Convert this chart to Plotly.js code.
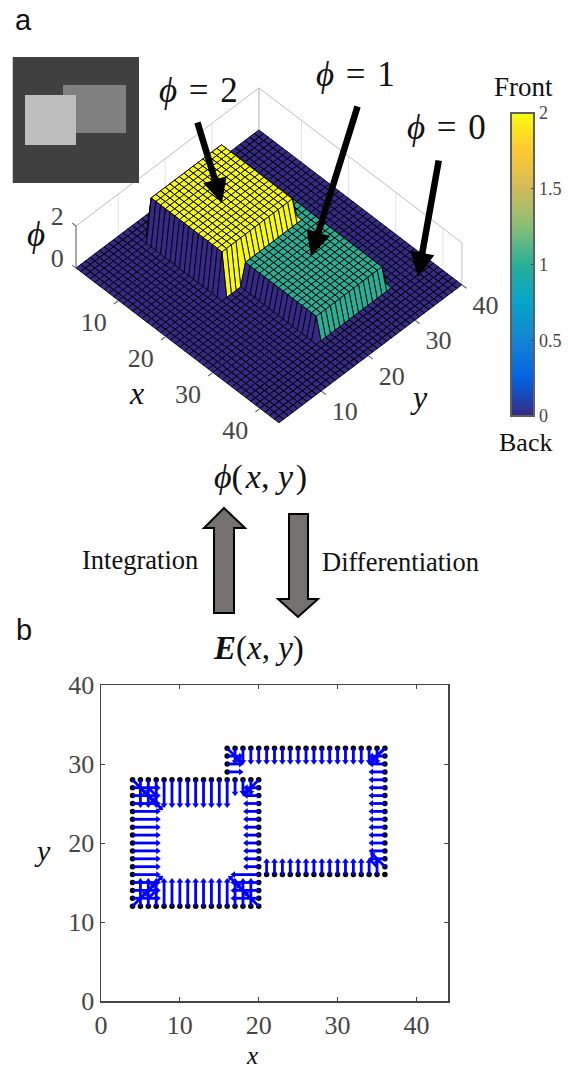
<!DOCTYPE html>
<html><head><meta charset="utf-8">
<script src="https://cdn.plot.ly/plotly-3.0.1.min.js"></script>
<style>html,body{margin:0;padding:0;background:#fff}#c{width:568px;height:1070px}</style></head>
<body><div id="c"></div>
<script>
// phi(x,y): each string is one y row (y = 1..40), each character one x column (x = 1..44)
const phiRows = [
"00000000000000000000000000000000000000000000",
"00000000000000000000000000000000000000000000",
"00000000000000000000000000000000000000000000",
"00000000000000000000000000000000000000000000",
"00000000000000000000000000000000000000000000",
"00000000000000000000000000000000000000000000",
"00000000000000000000000000000000000000000000",
"00000000000000000000000000000000000000000000",
"00000000000000000000000000000000000000000000",
"00000000000000000000000000000000000000000000",
"00000000000000000000000000000000000000000000",
"00000000000000000000000000000000000000000000",
"00002222222222222222000000000000000000000000",
"00002222222222222222000000000000000000000000",
"00002222222222222222000000000000000000000000",
"00002222222222222222000000000000000000000000",
"00002222222222222222111111111111111100000000",
"00002222222222222222111111111111111100000000",
"00002222222222222222111111111111111100000000",
"00002222222222222222111111111111111100000000",
"00002222222222222222111111111111111100000000",
"00002222222222222222111111111111111100000000",
"00002222222222222222111111111111111100000000",
"00002222222222222222111111111111111100000000",
"00002222222222222222111111111111111100000000",
"00002222222222222222111111111111111100000000",
"00002222222222222222111111111111111100000000",
"00002222222222222222111111111111111100000000",
"00000000000000001111111111111111111100000000",
"00000000000000001111111111111111111100000000",
"00000000000000001111111111111111111100000000",
"00000000000000000000000000000000000000000000",
"00000000000000000000000000000000000000000000",
"00000000000000000000000000000000000000000000",
"00000000000000000000000000000000000000000000",
"00000000000000000000000000000000000000000000",
"00000000000000000000000000000000000000000000",
"00000000000000000000000000000000000000000000",
"00000000000000000000000000000000000000000000",
"00000000000000000000000000000000000000000000"];
const xTicks3d = [10,20,30,40], yTicks3d = [10,20,30,40], zTicks3d = [0,2];
const barTicks = [0,0.5,1,1.5,2];
const parula = [[0,'rgb(53,42,135)'],[0.125,'rgb(3,99,225)'],[0.25,'rgb(20,132,212)'],[0.375,'rgb(6,164,202)'],
 [0.5,'rgb(40,175,150)'],[0.625,'rgb(135,191,119)'],[0.75,'rgb(209,187,89)'],[0.875,'rgb(254,200,50)'],[1,'rgb(249,251,14)']];

// Panel b: contour points of the two squares
const ringX = [4,5,6,7,8,9,10,11,12,13,14,15,16,17,18,19,20, 4,5,6,7,8,9,10,11,12,13,14,15,16,17,18,19,20,
 4,4,4,4,4,4,4,4,4,4,4,4,4,4,4, 20,20,20,20,20,20,20,20,20,20,20,20,20,20,20,
 16,17,18,19,20,21,22,23,24,25,26,27,28,29,30,31,32,33,34,35,36, 21,22,23,24,25,26,27,28,29,30,31,32,33,34,35,36,
 36,36,36,36,36,36,36,36,36,36,36,36,36,36,36, 16,16,16];
const ringY = [12,12,12,12,12,12,12,12,12,12,12,12,12,12,12,12,12, 28,28,28,28,28,28,28,28,28,28,28,28,28,28,28,28,28,
 13,14,15,16,17,18,19,20,21,22,23,24,25,26,27, 13,14,15,16,17,18,19,20,21,22,23,24,25,26,27,
 32,32,32,32,32,32,32,32,32,32,32,32,32,32,32,32,32,32,32,32,32, 16,16,16,16,16,16,16,16,16,16,16,16,16,16,16,16,
 17,18,19,20,21,22,23,24,25,26,27,28,29,30,31, 29,30,31];
// Panel b: field vectors E = (quiverU, quiverV) at (quiverX, quiverY)
const quiverX = [4,4,4,4,4,4,4,4,4, 8,9,10,11,12,13,14,15,16, 8,9,10,11,12,13,14,15,16, 17, 20,20,20,20,20,20,20,20,20,
 4,5,6,7,4,4,4,5,6,6, 4,5,6,7,4,4,4,5,6,6, 20,19,18,17,20,20,20,20,19,18, 20,19,18,20,20,19,
 16,17,18,19,20,21,22,23,24,25,26,27,28,29,30,31,32,33,34,35,36, 16,16,16,17,
 36,36,36,36,36,36,36,36,36,36,36,36,36,36,36, 35,35,
 21,22,23,24,25,26,27,28,29,30,31,32,33,34,35,36];
const quiverY = [16,17,18,19,20,21,22,23,24, 28,28,28,28,28,28,28,28,28, 12,12,12,12,12,12,12,12,12, 28, 17,18,19,20,21,22,23,24,25,
 28,28,28,28,27,26,25,27,26,27, 12,12,12,12,13,14,15,13,14,13, 12,12,12,12,13,14,15,16,13,14, 28,28,28,27,26,27,
 32,32,32,32,32,32,32,32,32,32,32,32,32,32,32,32,32,32,32,32,32, 31,30,29,31,
 32,31,30,29,28,27,26,25,24,23,22,21,20,19,18, 31,17,
 16,16,16,16,16,16,16,16,16,16,16,16,16,16,16,17];
const quiverU = [3.2,3.2,3.2,3.2,3.2,3.2,3.2,3.2,3.2, 0,0,0,0,0,0,0,0,0, 0,0,0,0,0,0,0,0,0, 0, -1.6,-1.6,-1.6,-1.6,-1.6,-1.6,-1.6,-1.6,-1.6,
 1.6,0,0,0,3.2,3.2,3.2,1.6,1.6,1, 1.6,0,0,0,3.2,3.2,3.2,1.6,1.6,1, -1.6,0,0,0,-3.2,-3.2,-3.2,-3.2,-1.6,-1.6, -1.6,0,0,-1.6,-1.6,-0.8,
 1.6,0,0,0,0,0,0,0,0,0,0,0,0,0,0,0,0,0,0,0,-1.6, 1.7,1.7,1.7,0.8,
 -1.7,-1.7,-1.7,-1.7,-1.7,-1.7,-1.7,-1.7,-1.7,-1.7,-1.7,-1.7,-1.7,-1.7,-1.7, -0.8,-0.8,
 0,0,0,0,0,0,0,0,0,0,0,0,0,0,0,-1.6];
const quiverV = [0,0,0,0,0,0,0,0,0, -3.2,-3.2,-3.2,-3.2,-3.2,-3.2,-3.2,-3.2,-3.2, 3.2,3.2,3.2,3.2,3.2,3.2,3.2,3.2,3.2, -1.7, 0,0,0,0,0,0,0,0,0,
 -1.6,-3.2,-3.2,-3.2,0,0,0,-1.6,-1.6,-1, 1.6,3.2,3.2,3.2,0,0,0,1.6,1.6,1, 1.6,3.2,3.2,3.2,0,0,0,0,1.6,1.6, -1.6,-1.6,-1.6,0,0,-0.8,
 -1.6,-1.7,-1.7,-1.7,-1.7,-1.7,-1.7,-1.7,-1.7,-1.7,-1.7,-1.7,-1.7,-1.7,-1.7,-1.7,-1.7,-1.7,-1.7,-1.7,-1.6, 0,0,0,-0.8,
 -1.6,0,0,0,0,0,0,0,0,0,0,0,0,0,0, -0.8,0.8,
 1.7,1.7,1.7,1.7,1.7,1.7,1.7,1.7,1.7,1.7,1.7,1.7,1.7,1.7,1.7,1.6];

const W = 568, H = 1070;
const px = v => v / W, py = v => 1 - v / H;
const phi = phiRows.map(r => r.split('').map(Number));
const gx = phi[0].map((_, i) => i + 1), gy = phi.map((_, j) => j + 1);
const nx = gx.length, ny = gy.length;
const xMin = 1, xMax = 44, yMin = 1, yMax = 40, zMax = 2;

// Oblique view of the (x,y,phi) volume, projected into the pixel-ranged axes x2/y2
const projX = (x, y, z) => 76 + (x - 1) * 4.72 + (y - 1) * 4.69;
const projY = (x, y, z) => 268 + (x - 1) * 3.60 - (y - 1) * 3.54 - z * 21;
const levelColor = v => parula.find(s => Math.abs(s[0] - v / 2) < 1e-6)[1];

// Back-to-front runs of cells sharing a colour (cell colour = low-index corner).
// Walls get their own run so their outlines stay beneath the faces drawn later.
const surfaceTraces = [];
let run = null;
for (let i = 0; i < nx - 1; i++) for (let j = ny - 2; j >= 0; j--) {
  const v = phi[j][i];
  const flat = v === phi[j][i+1] && v === phi[j+1][i] && v === phi[j+1][i+1];
  if (!run || run.level !== v || !flat || !run.flat) {
    run = {level:v, flat, xs:[], ys:[]};
    surfaceTraces.push(run);
  }
  [[i,j],[i+1,j],[i+1,j+1],[i,j+1],[i,j]].forEach(c => {
    const z = phi[c[1]][c[0]];
    run.xs.push(projX(gx[c[0]], gy[c[1]], z)); run.ys.push(projY(gx[c[0]], gy[c[1]], z));
  });
  run.xs.push(null); run.ys.push(null);
}

const seg3 = list => {
  const xs = [], ys = [];
  list.forEach(s => { xs.push(projX(s[0],s[1],s[2]), projX(s[3],s[4],s[5]), null); ys.push(projY(s[0],s[1],s[2]), projY(s[3],s[4],s[5]), null); });
  return {xs, ys};
};
const wallGrid = seg3([
  ...xTicks3d.map(x => [x,yMax,0,x,yMax,zMax]),
  ...yTicks3d.map(y => [xMin,y,0,xMin,y,zMax])
]);
const wallEdge = seg3([[xMin,yMin,zMax,xMin,yMax,zMax],[xMin,yMax,zMax,xMax,yMax,zMax],[xMin,yMax,0,xMin,yMax,zMax],[xMax,yMax,0,xMax,yMax,zMax]]);
const axisInk = seg3([
  [xMin,yMin,0,xMin,yMin,zMax],[xMin,yMin,zMax,xMin-0.8,yMin,zMax],[xMin,yMin,0,xMin-0.8,yMin,0],
  ...xTicks3d.map(x => [x,yMin,0,x,yMin-1,0]),
  ...yTicks3d.map(y => [xMax,y,0,xMax+1,y,0])
]);

const sx = [], sy = [], tipX = [], tipY = [], ang = [];
quiverX.forEach((x, i) => {
  const ex = x + quiverU[i], ey = quiverY[i] + quiverV[i];
  sx.push(x, ex, null); sy.push(quiverY[i], ey, null);
  tipX.push(ex); tipY.push(ey);
  ang.push(Math.atan2(quiverU[i], quiverV[i]) * 180 / Math.PI);
});

const serif = 'Liberation Serif';
const grey = 'rgb(70,70,70)';
const tick3 = {family:serif, size:26, color:grey};
const on3 = {xaxis:'x2', yaxis:'y2', hoverinfo:'skip', showlegend:false};
const traces = [
 {type:'scatter', mode:'markers', x:ringX, y:ringY, marker:{color:'#000', size:5.5}, hoverinfo:'skip', showlegend:false},
 {type:'scatter', mode:'lines', x:sx, y:sy, line:{color:'rgb(0,0,255)', width:2.8}, hoverinfo:'skip', showlegend:false},
 {type:'scatter', mode:'markers', x:tipX, y:tipY, marker:{color:'rgb(0,0,255)', size:6, symbol:'triangle-up', angle:ang}, hoverinfo:'skip', showlegend:false},
 Object.assign({type:'scatter', mode:'lines', x:wallGrid.xs, y:wallGrid.ys, line:{color:'rgb(226,226,226)', width:1}}, on3),
 Object.assign({type:'scatter', mode:'lines', x:wallEdge.xs, y:wallEdge.ys, line:{color:'rgb(190,190,190)', width:1}}, on3),
 ...surfaceTraces.map(r => Object.assign({type:'scatter', mode:'lines', x:r.xs, y:r.ys, fill:'toself', fillcolor:levelColor(r.level),
   line:{color:'rgb(0,0,0)', width:0.9, simplify:false}}, on3)),
 Object.assign({type:'scatter', mode:'lines', x:axisInk.xs, y:axisInk.ys, line:{color:'rgb(110,110,110)', width:1.2}}, on3),
 Object.assign({type:'scatter', mode:'text', x:xTicks3d.map(x => projX(x+0.7,-5,0)), y:xTicks3d.map(x => projY(x+0.7,-5,0)), text:xTicks3d.map(String), textfont:tick3, textposition:'middle center'}, on3),
 Object.assign({type:'scatter', mode:'text', x:yTicks3d.map(y => projX(49.65,y-0.65,0)), y:yTicks3d.map(y => projY(49.65,y-0.65,0)), text:yTicks3d.map(String), textfont:tick3, textposition:'middle center'}, on3),
 Object.assign({type:'scatter', mode:'text', x:zTicks3d.map(z => projX(-2,0,z)), y:zTicks3d.map(z => projY(-2,0,z)), text:zTicks3d.map(String), textfont:tick3, textposition:'middle center'}, on3),
 Object.assign({type:'scatter', mode:'markers', x:[-50,-50], y:[-50,-50],
  marker:{size:1, color:[0,2], cmin:0, cmax:2, colorscale:parula, showscale:true,
  colorbar:{x:px(511), xanchor:'left', xref:'paper', y:py(113), yanchor:'top', yref:'paper', len:303/H, lenmode:'fraction',
   thickness:23, thicknessmode:'pixels', xpad:0, ypad:0, outlinecolor:'rgb(95,95,95)', outlinewidth:2, ticks:'inside', ticklen:4,
   tickcolor:grey, tickvals:barTicks, ticktext:barTicks.map(String), tickfont:{family:serif,size:18,color:grey}}}}, on3),
 {type:'heatmap', x:gx, y:gy, z:phi, xaxis:'x3', yaxis:'y3', zmin:0, zmax:2, showscale:false,
  colorscale:[[0,'rgb(64,64,64)'],[0.5,'rgb(128,128,128)'],[1,'rgb(190,190,190)']], hoverinfo:'skip'}
];

const note = (text, x, y, size, extra) => Object.assign({text, x:px(x), y:py(y), xref:'paper', yref:'paper', showarrow:false,
  xanchor:'center', yanchor:'middle', font:{family:serif, size, color:'#111'}}, extra || {});
const arrow = (x0, y0, x1, y1) => ({x:px(x1), y:py(y1), xref:'paper', yref:'paper', ax:x0 - x1, ay:y0 - y1, axref:'pixel', ayref:'pixel',
  text:'', showarrow:true, arrowhead:2, arrowsize:0.75, arrowwidth:6.5, arrowcolor:'#000'});
const poly = pts => 'M' + pts.map(p => px(p[0]) + ',' + py(p[1])).join('L') + 'Z';
const bigArrow = pts => ({type:'path', xref:'paper', yref:'paper', layer:'above', path:poly(pts), fillcolor:'rgb(118,113,113)', line:{color:'#000', width:2}});
const sp = '\u00a0', hs = '\u200a';

const panelAxis = (domain, range) => ({domain, range, tickvals:[0,10,20,30,40], ticks:'inside', ticklen:4, tickcolor:grey, mirror:'ticks', showline:true,
  linecolor:grey, linewidth:1.5, showgrid:false, zeroline:false, tickfont:{family:serif,size:26,color:grey}});
const hiddenAxis = (domain, range, anchor) => ({domain, range, visible:false, anchor, fixedrange:true});

const layout = {
 width:W, height:H, margin:{l:0,r:0,t:0,b:0}, paper_bgcolor:'#fff', plot_bgcolor:'rgba(0,0,0,0)', showlegend:false,
 xaxis:Object.assign(panelAxis([px(101),px(448)],[0,44]), {anchor:'y'}),
 yaxis:Object.assign(panelAxis([py(1001),py(685)],[0,40]), {anchor:'x'}),
 xaxis2:hiddenAxis([0,1],[0,W],'y2'),
 yaxis2:hiddenAxis([0,1],[H,0],'x2'),
 xaxis3:hiddenAxis([px(12.5),px(139)],[0.5,40.5],'y3'),
 yaxis3:hiddenAxis([py(183),py(57)],[0.5,40.5],'x3'),
 shapes:[
  bigArrow([[224,508],[245,528],[234,528],[234,613],[214,613],[214,528],[204,528]]),
  bigArrow([[289,514],[308,514],[308,599],[318,599],[298,617],[278,599],[289,599]])
 ],
 annotations:[
  note('a',23,20,29,{font:{family:'Liberation Sans',size:29,color:'#111'}}),
  note('b',24,630,29,{font:{family:'Liberation Sans',size:29,color:'#111'}}),
  note('<i>ϕ</i>'+sp+hs+'='+hs+sp+'2',198,90,35),
  note('<i>ϕ</i>'+sp+hs+'='+hs+sp+'1',355,75,35),
  note('<i>ϕ</i>'+sp+hs+'='+hs+sp+'0',446,128,35),
  note('Front',523,87,27),
  note('Back',525,442,26),
  note('<i>ϕ</i>',36,235,35),
  note('<i>x</i>',136,393,32),
  note('<i>y</i>',419,397,32),
  note('<i>x</i>',252,1055,25),
  note('<i>y</i>',42,850,30),
  note('<i>ϕ</i>('+hs+'<i>x</i>,'+sp+'<i>y</i>'+hs+')',260,477,34),
  note('<b><i>E</i></b>(<i>x</i>,'+sp+'<i>y</i>)',258,648,33),
  note('Integration',140,560,26.5),
  note('Differentiation',400,562,26.5),
  arrow(197,121,222,203),
  arrow(358,105,311,256),
  arrow(439,159,418,277)
 ]
};
Plotly.newPlot('c', traces, layout, {displayModeBar:false, staticPlot:true});
</script></body></html>
